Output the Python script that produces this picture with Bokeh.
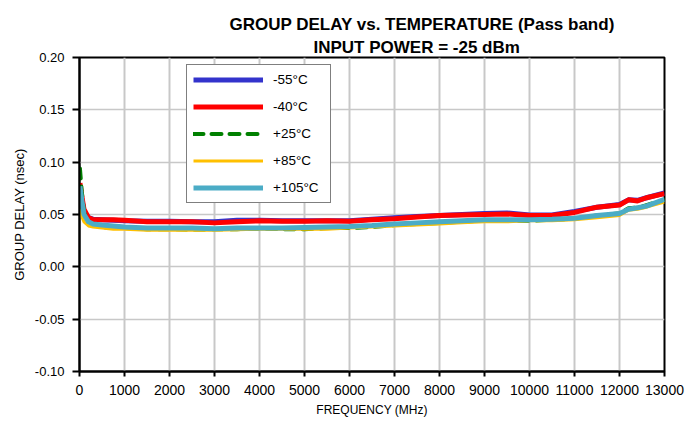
from bokeh.plotting import figure
from bokeh.models import FixedTicker, PrintfTickFormatter, Title, Legend, LegendItem
from bokeh.embed import file_html
from bokeh.resources import INLINE

# ---- data ----
freq = [10, 50, 100, 200, 300, 500, 750, 1000, 1500, 2000, 2500, 3000, 3500, 4000,
        4500, 5000, 5500, 6000, 6500, 7000, 7500, 8000, 8500, 9000, 9500, 10000,
        10500, 11000, 11500, 12000, 12200, 12400, 12600, 13000]

gd_m55 = [0.076, 0.065, 0.053, 0.047, 0.0455, 0.045, 0.0445, 0.044, 0.0435, 0.0435,
          0.043, 0.043, 0.0445, 0.0445, 0.044, 0.044, 0.044, 0.044, 0.0455, 0.047,
          0.048, 0.049, 0.050, 0.051, 0.0515, 0.0495, 0.0495, 0.053, 0.057, 0.0595,
          0.064, 0.0635, 0.066, 0.0705]
gd_m40 = [0.080, 0.068, 0.055, 0.047, 0.045, 0.045, 0.045, 0.0445, 0.043, 0.043,
          0.043, 0.042, 0.043, 0.044, 0.0435, 0.0435, 0.044, 0.0435, 0.045, 0.046,
          0.0475, 0.049, 0.0495, 0.050, 0.0505, 0.049, 0.049, 0.052, 0.057, 0.059,
          0.064, 0.063, 0.066, 0.070]
gd_p25 = [0.094, 0.072, 0.052, 0.043, 0.040, 0.038, 0.037, 0.037, 0.036, 0.036,
          0.0355, 0.036, 0.036, 0.0365, 0.036, 0.036, 0.037, 0.037, 0.038, 0.040,
          0.041, 0.042, 0.043, 0.0445, 0.044, 0.044, 0.045, 0.046, 0.049, 0.051,
          0.056, 0.0565, 0.059, 0.064]
gd_p85 = [0.055, 0.048, 0.043, 0.039, 0.038, 0.037, 0.036, 0.036, 0.035, 0.035,
          0.035, 0.035, 0.0355, 0.036, 0.036, 0.036, 0.036, 0.037, 0.038, 0.039,
          0.040, 0.041, 0.042, 0.043, 0.043, 0.044, 0.044, 0.045, 0.047, 0.049,
          0.054, 0.055, 0.057, 0.062]
gd_p105 = [0.077, 0.064, 0.050, 0.043, 0.041, 0.040, 0.039, 0.038, 0.037, 0.037,
           0.037, 0.0365, 0.037, 0.037, 0.037, 0.0375, 0.038, 0.0385, 0.0395, 0.041,
           0.042, 0.043, 0.044, 0.045, 0.045, 0.045, 0.0455, 0.0465, 0.049, 0.051,
           0.055, 0.0565, 0.058, 0.0645]

series_labels = ["-55°C", "-40°C", "+25°C", "+85°C", "+105°C"]
x_ticks = [0, 1000, 2000, 3000, 4000, 5000, 6000, 7000, 8000, 9000, 10000,
           11000, 12000, 13000]
y_ticks = [-0.10, -0.05, 0.00, 0.05, 0.10, 0.15, 0.20]

title_line1 = "GROUP DELAY vs. TEMPERATURE (Pass band)"
title_line2 = "INPUT POWER =  -25 dBm"
x_label = "FREQUENCY (MHz)"
y_label = "GROUP DELAY (nsec)"

FONT = "Liberation Sans"

p = figure(width=696, height=421, x_range=(0, 13000), y_range=(-0.10, 0.20),
           output_backend="svg", toolbar_location=None,
           min_border_left=79, min_border_right=32, min_border_top=57,
           min_border_bottom=50)

# titles (second line added first -> closest to frame)
t2 = Title(text=title_line2, align="left", offset=234, text_font=FONT,
           text_font_size="17px", text_font_style="bold", text_color="black",
           standoff=2)
t1 = Title(text=title_line1, align="left", offset=150, text_font=FONT,
           text_font_size="17px", text_font_style="bold", text_color="black",
           standoff=2)
p.add_layout(t2, "above")
p.add_layout(t1, "above")

p.outline_line_color = "black"
p.outline_line_width = 2
p.background_fill_color = "white"
p.border_fill_color = "white"

p.xgrid.grid_line_color = "#C8C8C8"
p.xgrid.grid_line_width = 2
p.ygrid.grid_line_color = "#C8C8C8"
p.ygrid.grid_line_width = 1.5

p.xaxis.ticker = FixedTicker(ticks=x_ticks)
p.yaxis.ticker = FixedTicker(ticks=y_ticks)
p.yaxis.formatter = PrintfTickFormatter(format="%.2f")

for ax in (p.xaxis, p.yaxis):
    ax.axis_line_color = "black"
    ax.axis_line_width = 2
    ax.major_tick_line_color = "black"
    ax.major_tick_line_width = 2
    ax.major_tick_in = 0
    ax.minor_tick_line_color = None
    ax.major_label_text_font = FONT
    ax.major_label_text_color = "black"
    ax.axis_label_text_font = FONT
    ax.axis_label_text_font_style = "normal"
    ax.axis_label_text_color = "black"

p.xaxis.major_tick_out = 5
p.xaxis.major_label_standoff = 8
p.xaxis.major_label_text_font_size = "14px"
p.xaxis.axis_label = x_label
p.xaxis.axis_label_text_font_size = "12px"
p.xaxis.axis_label_standoff = 5

p.yaxis.major_tick_out = 7
p.yaxis.major_label_standoff = 8
p.yaxis.major_label_text_font_size = "13px"
p.yaxis.axis_label = y_label
p.yaxis.axis_label_text_font_size = "13px"
p.yaxis.axis_label_standoff = 5

r1 = p.line(freq, gd_m55, line_color="#3333CC", line_width=5, line_join="round")
r2 = p.line(freq, gd_m40, line_color="#FF0000", line_width=5, line_join="round")
r3 = p.line(freq, gd_p25, line_color="#008000", line_width=4, line_dash="10 8",
            line_cap="round", line_join="round")
r4 = p.line(freq, gd_p85, line_color="#FFC000", line_width=3, line_join="round")
r5 = p.line(freq, gd_p105, line_color="#4BACC6", line_width=5, line_join="round")

legend = Legend(items=[LegendItem(label=lab, renderers=[r])
                       for lab, r in zip(series_labels, [r1, r2, r3, r4, r5])],
                location=(107, 168))
legend.padding = 6
legend.spacing = 10
legend.glyph_width = 70
legend.glyph_height = 17
legend.label_height = 17
legend.label_width = 51
legend.label_standoff = 10
legend.margin = 0
legend.label_text_font = FONT
legend.label_text_font_size = "13.5px"
legend.label_text_color = "black"
legend.border_line_color = "black"
legend.border_line_width = 1
legend.background_fill_color = "white"
legend.background_fill_alpha = 1.0
p.add_layout(legend, "center")

open("out.html", "w").write(file_html(p, INLINE))
